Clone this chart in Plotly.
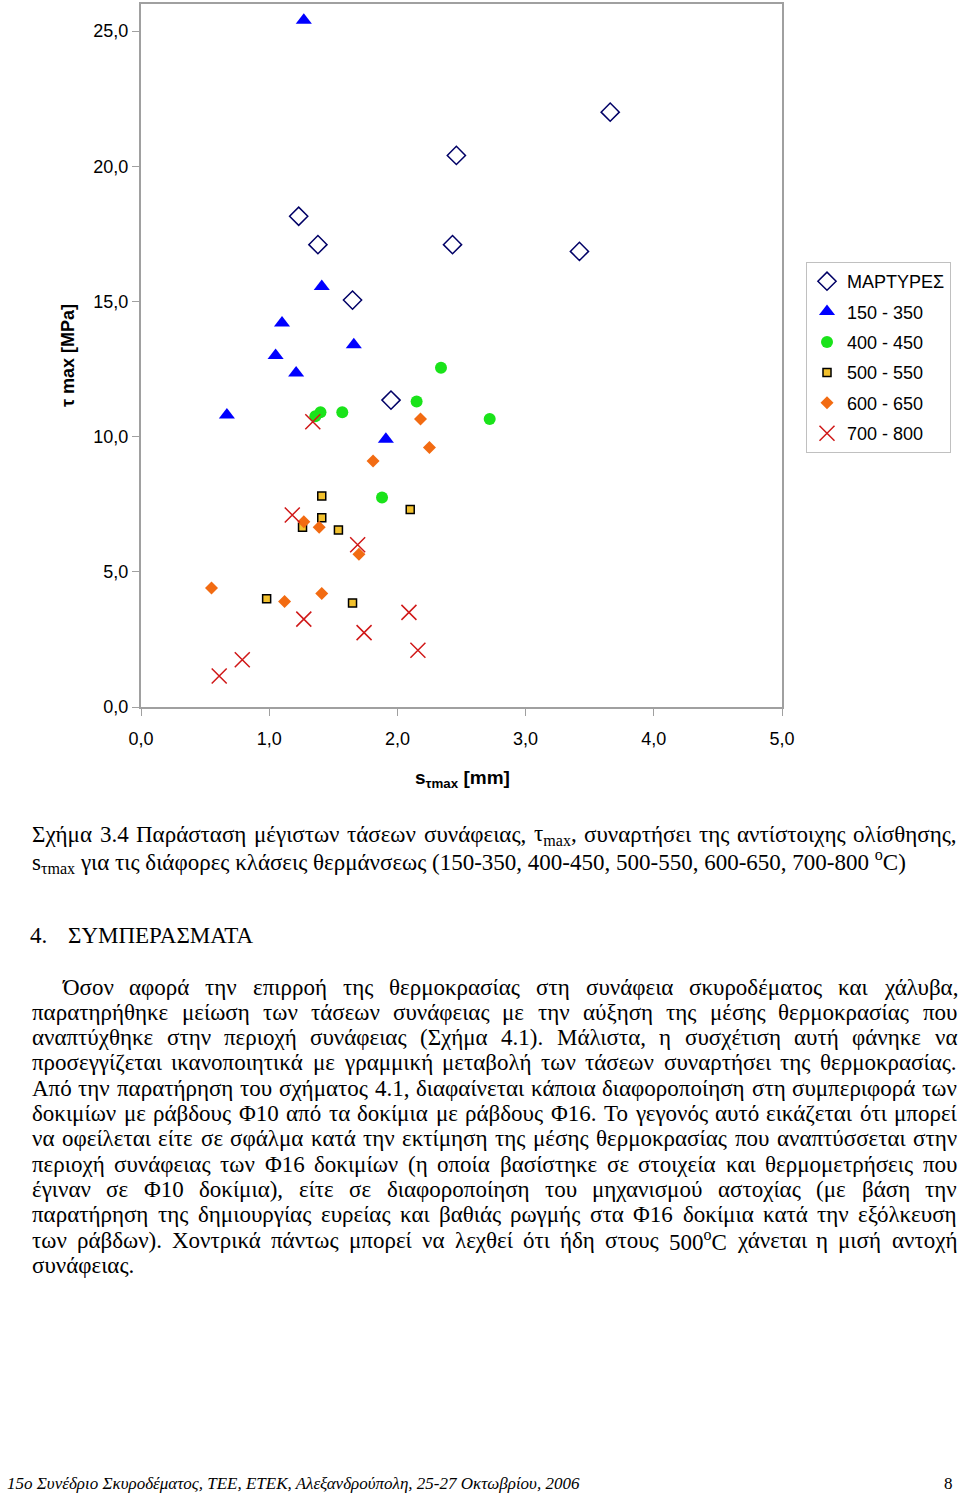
import glob
import re
import plotly.graph_objects as go

# ---------------- data ----------------
series_names = ["ΜΑΡΤΥΡΕΣ", "150 - 350", "400 - 450", "500 - 550", "600 - 650", "700 - 800"]

x_martyres = [3.66, 2.46, 1.23, 1.38, 2.43, 3.42, 1.65, 1.95]
y_martyres = [22.0, 20.4, 18.15, 17.1, 17.1, 16.85, 15.05, 11.35]

x_150 = [1.27, 1.41, 1.10, 1.66, 1.05, 1.21, 0.67, 1.91]
y_150 = [25.4, 15.55, 14.2, 13.4, 13.0, 12.35, 10.8, 9.9]

x_400 = [2.34, 2.15, 2.72, 1.40, 1.36, 1.57, 1.88]
y_400 = [12.55, 11.3, 10.65, 10.9, 10.75, 10.9, 7.75]

x_500 = [1.41, 2.10, 1.41, 1.26, 1.54, 0.98, 1.65]
y_500 = [7.8, 7.3, 7.0, 6.65, 6.55, 4.0, 3.85]

x_600 = [2.18, 2.25, 1.81, 1.27, 1.39, 1.70, 0.55, 1.12, 1.41]
y_600 = [10.65, 9.6, 9.1, 6.85, 6.65, 5.65, 4.4, 3.9, 4.2]

x_700 = [1.34, 1.18, 1.69, 1.27, 2.09, 1.74, 2.16, 0.79, 0.61]
y_700 = [10.55, 7.1, 6.0, 3.25, 3.5, 2.75, 2.1, 1.75, 1.15]

x_ticks = [0, 1, 2, 3, 4, 5]
y_ticks = [0, 5, 10, 15, 20, 25]

caption_lines = [
    "Σχήμα 3.4 Παράσταση μέγιστων τάσεων συνάφειας, τ<sub>max</sub>, συναρτήσει της αντίστοιχης ολίσθησης,",
    "s<sub>τmax</sub> για τις διάφορες κλάσεις θερμάνσεως (150-350, 400-450, 500-550, 600-650, 700-800 <sup>o</sup>C)",
]
heading_num = "4."
heading_text = "ΣΥΜΠΕΡΑΣΜΑΤΑ"
body_lines = [
    "Όσον αφορά την επιρροή της θερμοκρασίας στη συνάφεια σκυροδέματος και χάλυβα,",
    "παρατηρήθηκε μείωση των τάσεων συνάφειας με την αύξηση της μέσης θερμοκρασίας που",
    "αναπτύχθηκε στην περιοχή συνάφειας (Σχήμα 4.1). Μάλιστα, η συσχέτιση αυτή φάνηκε να",
    "προσεγγίζεται ικανοποιητικά με γραμμική μεταβολή των τάσεων συναρτήσει της θερμοκρασίας.",
    "Από την παρατήρηση του σχήματος 4.1, διαφαίνεται κάποια διαφοροποίηση στη συμπεριφορά των",
    "δοκιμίων με ράβδους Φ10 από τα δοκίμια με ράβδους Φ16. Το γεγονός αυτό εικάζεται ότι μπορεί",
    "να οφείλεται είτε σε σφάλμα κατά την εκτίμηση της μέσης θερμοκρασίας που αναπτύσσεται στην",
    "περιοχή συνάφειας των Φ16 δοκιμίων (η οποία βασίστηκε σε στοιχεία και θερμομετρήσεις που",
    "έγιναν σε Φ10 δοκίμια), είτε σε διαφοροποίηση του μηχανισμού αστοχίας (με βάση την",
    "παρατήρηση της δημιουργίας ευρείας και βαθιάς ρωγμής στα Φ16 δοκίμια κατά την εξόλκευση",
    "των ράβδων). Χοντρικά πάντως μπορεί να λεχθεί ότι ήδη στους 500<sup>o</sup>C χάνεται η μισή αντοχή",
    "συνάφειας.",
]
footer_left = "15o Συνέδριο Σκυροδέματος, ΤΕΕ, ΕΤΕΚ, Αλεξανδρούπολη, 25-27 Οκτωβρίου, 2006"
footer_right = "8"

# ---------------- helpers ----------------
W, H = 960, 1495
SANS = "Liberation Sans, Arial, sans-serif"
SERIF = "Liberation Serif, Times New Roman, serif"

def _split_tags(text):
    out = []
    pos = 0
    for m in re.finditer(r"<(sup|sub)>(.*?)</\1>", text):
        if m.start() > pos:
            out.append((text[pos:m.start()], False))
        out.append((m.group(2), True))
        pos = m.end()
    if pos < len(text):
        out.append((text[pos:], False))
    return out

_font_cache = {}
def _measure(text, size):
    """Approximate rendered width of text in Liberation Serif, or None."""
    try:
        from PIL import ImageFont
    except Exception:
        return None
    if size not in _font_cache:
        paths = glob.glob("/usr/share/fonts/**/LiberationSerif-Regular.ttf", recursive=True)
        if not paths:
            return None
        _font_cache[size] = ImageFont.truetype(paths[0], size)
    f = _font_cache[size]
    w = 0.0
    for part, is_small in _split_tags(text):
        w += f.getlength(part) * (0.7 if is_small else 1.0)
    return w

ann = []
def add(text, px, py, size, family, xanchor="left", yanchor="middle", textangle=0, color="#000"):
    ann.append(dict(text=text, x=px / W, y=1 - py / H, xref="paper", yref="paper",
                    xanchor=xanchor, yanchor=yanchor, showarrow=False, textangle=textangle,
                    font=dict(family=family, size=size, color=color)))

def add_justified(text, left, right, py, size):
    words = text.split(" ")
    widths = [_measure(w, size) for w in words]
    if any(v is None for v in widths) or len(words) < 2:
        add(text, left, py, size, SERIF)
        return
    gap = (right - left - sum(widths)) / (len(words) - 1)
    x = left
    for w, wd in zip(words, widths):
        add(w, x, py, size, SERIF)
        x += wd + gap

# ---------------- figure ----------------
fig = go.Figure()
specs = [
    (x_martyres, y_martyres, dict(symbol="diamond-open", size=14, color="#000066",
                                  line=dict(width=1.5, color="#000066"))),
    (x_150, y_150, dict(symbol="triangle-up", size=14, color="#0000FF", line=dict(width=0))),
    (x_400, y_400, dict(symbol="circle", size=12, color="#1AE31A", line=dict(width=0))),
    (x_500, y_500, dict(symbol="square", size=8, color="#F2C12E",
                        line=dict(width=1.5, color="#000000"))),
    (x_600, y_600, dict(symbol="diamond", size=10, color="#F26B12", line=dict(width=0))),
    (x_700, y_700, dict(symbol="x-thin-open", size=15, color="#D01818",
                        line=dict(width=1.5, color="#D01818"))),
]
for i, (xs, ys, mk) in enumerate(specs):
    fig.add_trace(go.Scatter(x=xs, y=ys, mode="markers", name=series_names[i],
                             legendgroup=f"g{i}", marker=mk))

x0, x1 = 141 / W, 782 / W
y0, y1 = 1 - 707 / H, 1 - 4 / H

fig.update_xaxes(domain=[x0, x1], range=[0, 5], tickvals=x_ticks, tickformat=".1f",
                 showgrid=False, zeroline=False, showline=True, linecolor="#A0A0A0",
                 linewidth=2, mirror=True, ticks="outside", ticklen=7, tickcolor="#A0A0A0",
                 tickfont=dict(family=SANS, size=18, color="#000"), ticklabelstandoff=7)
fig.update_yaxes(domain=[y0, y1], range=[0, 26.0], tickvals=y_ticks, tickformat=".1f",
                 showgrid=False, zeroline=False, showline=True, linecolor="#A0A0A0",
                 linewidth=2, mirror=True, ticks="outside", ticklen=7, tickcolor="#A0A0A0",
                 tickfont=dict(family=SANS, size=18, color="#000"), ticklabelstandoff=0)

add("<b>τ max [MPa]</b>", 68, 356, 18, SANS, xanchor="center", textangle=-90)
add("<b>s<sub>τmax</sub> [mm]</b>", 462, 779, 19, SANS, xanchor="center")

add_justified(caption_lines[0], 30, 955, 835, 23)
add(caption_lines[1], 30, 861, 23, SERIF)
add(heading_num, 28, 935, 23, SERIF)
add(heading_text, 66, 935, 23, SERIF)

line_y0 = 987
line_dy = 25.3
for i, t in enumerate(body_lines):
    left = 60 if i == 0 else 30
    py = line_y0 + i * line_dy
    if i < len(body_lines) - 1:
        add_justified(t, left, 955, py, 23)
    else:
        add(t, left, py, 23, SERIF)

add("<i>" + footer_left + "</i>", 5, 1483, 17, SERIF)
add(footer_right, 955, 1483, 17, SERIF, xanchor="right")

fig.update_layout(
    width=W, height=H, margin=dict(l=0, r=0, t=0, b=0, autoexpand=False),
    paper_bgcolor="white", plot_bgcolor="white", separators=",.",
    showlegend=True,
    legend=dict(x=806 / W, y=1 - 262 / H, xanchor="left", yanchor="top",
                bgcolor="white", bordercolor="#C0C0C0", borderwidth=1,
                font=dict(family=SANS, size=18, color="#000"),
                itemsizing="trace", tracegroupgap=4, itemwidth=30),
    annotations=ann,
)

fig.write_html("out.html", config={"displayModeBar": False},
               post_script="document.body.style.margin='0';")
